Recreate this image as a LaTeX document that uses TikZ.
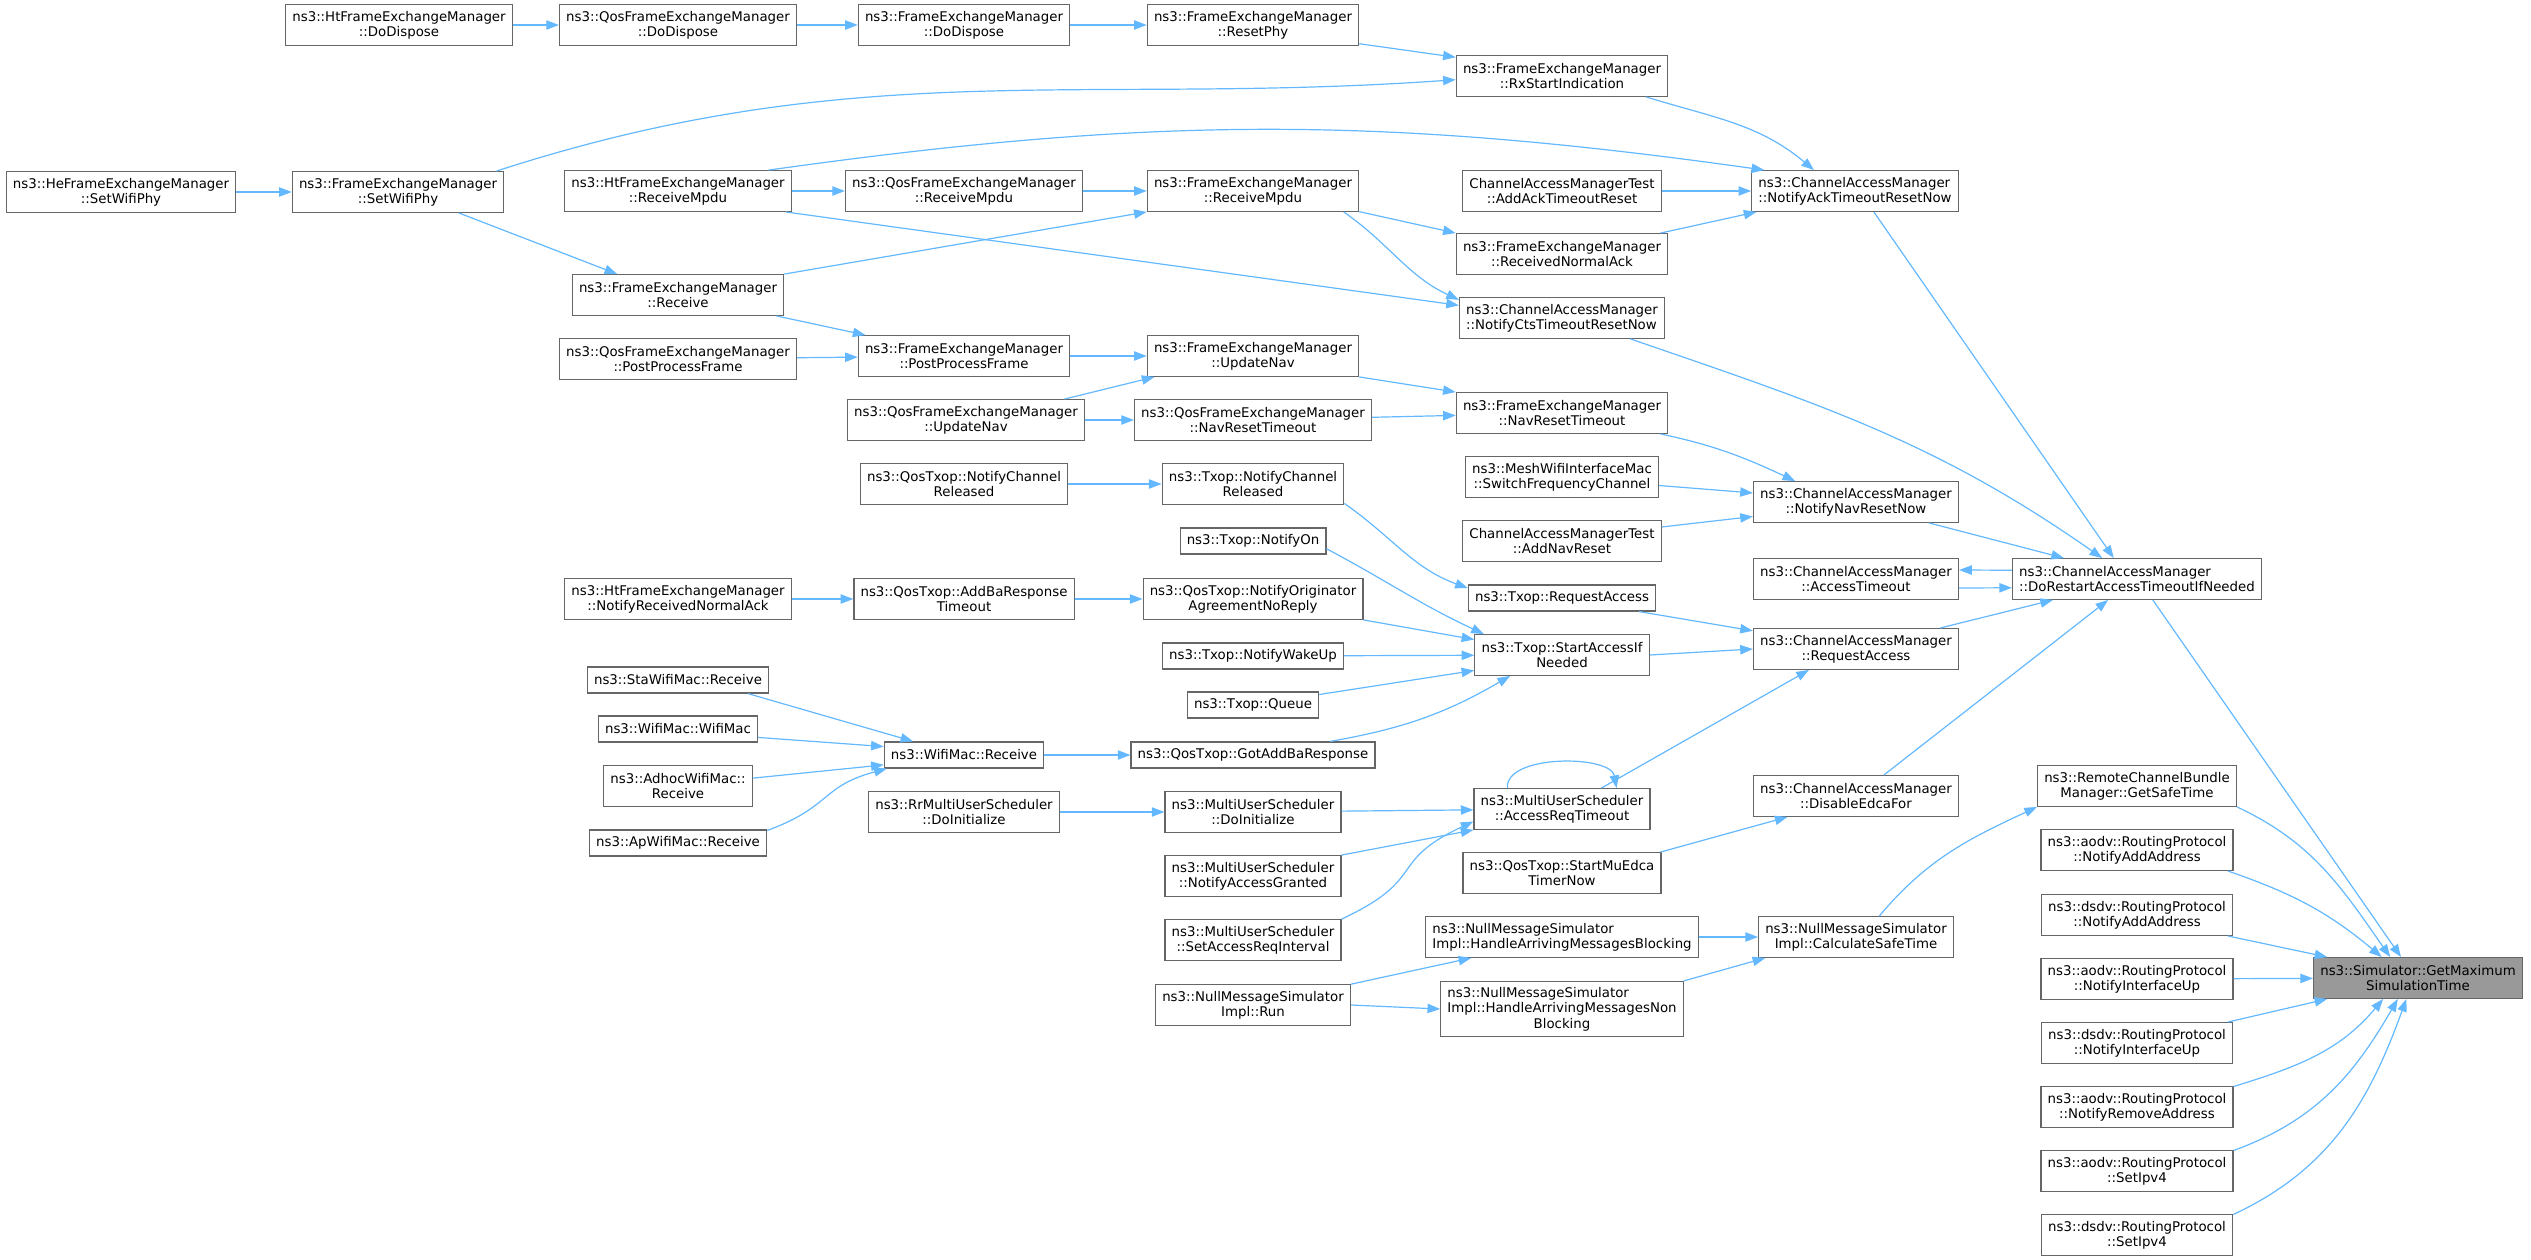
\documentclass[tikz,border=0pt]{standalone}
\usepackage{fontspec}
\setmainfont{DejaVu Sans}
\usepackage{tikz}
\usetikzlibrary{arrows.meta}
\definecolor{edgeblue}{HTML}{63B8FF}
\definecolor{boxgray}{HTML}{666666}
\definecolor{hlgray}{HTML}{999999}

\begin{document}
\begin{tikzpicture}[x=0.75pt,y=0.75pt,
  fn/.style={draw=boxgray,line width=0.9pt,fill=white,align=center,font=\fontsize{10}{11.5}\selectfont,inner xsep=5pt,inner ysep=4.5pt,minimum height=30.5pt},
  fnl/.style={fn,align=left},
  single/.style={minimum height=19.5pt},
  hl/.style={fill=hlgray},
  call/.style={draw=edgeblue,line width=0.9pt,-{Triangle[length=9.5pt,width=7pt]}}]
\useasboundingbox (0,0) rectangle (2531,-1260);

\node[fn] (htDisp) at (399,-25) {ns3::HtFrameExchangeManager\\::DoDispose};
\node[fn] (qosDisp) at (678,-25) {ns3::QosFrameExchangeManager\\::DoDispose};
\node[fn] (femDisp) at (964,-25) {ns3::FrameExchangeManager\\::DoDispose};
\node[fn] (resetPhy) at (1253,-25) {ns3::FrameExchangeManager\\::ResetPhy};
\node[fn] (rxStart) at (1562,-76) {ns3::FrameExchangeManager\\::RxStartIndication};
\node[fn] (heSetPhy) at (121,-192) {ns3::HeFrameExchangeManager\\::SetWifiPhy};
\node[fn] (femSetPhy) at (398,-192) {ns3::FrameExchangeManager\\::SetWifiPhy};
\node[fn] (htRxMpdu) at (678,-191) {ns3::HtFrameExchangeManager\\::ReceiveMpdu};
\node[fn] (qosRxMpdu) at (964,-191) {ns3::QosFrameExchangeManager\\::ReceiveMpdu};
\node[fn] (femRxMpdu) at (1253,-191) {ns3::FrameExchangeManager\\::ReceiveMpdu};
\node[fn] (testAck) at (1562,-191) {ChannelAccessManagerTest\\::AddAckTimeoutReset};
\node[fnl] (ackReset) at (1855,-191) {ns3::ChannelAccessManager\\::NotifyAckTimeoutResetNow};
\node[fn] (rxNormalAck) at (1562,-254) {ns3::FrameExchangeManager\\::ReceivedNormalAck};
\node[fn] (femRx) at (678,-295) {ns3::FrameExchangeManager\\::Receive};
\node[fnl] (ctsReset) at (1562,-318) {ns3::ChannelAccessManager\\::NotifyCtsTimeoutResetNow};
\node[fn] (qosPost) at (678,-359) {ns3::QosFrameExchangeManager\\::PostProcessFrame};
\node[fn] (femPost) at (964,-356) {ns3::FrameExchangeManager\\::PostProcessFrame};
\node[fn] (femNav) at (1253,-356) {ns3::FrameExchangeManager\\::UpdateNav};
\node[fn] (qosNav) at (966,-420) {ns3::QosFrameExchangeManager\\::UpdateNav};
\node[fn] (qosNavReset) at (1253,-420) {ns3::QosFrameExchangeManager\\::NavResetTimeout};
\node[fn] (femNavReset) at (1562,-413) {ns3::FrameExchangeManager\\::NavResetTimeout};
\node[fn] (meshSwitch) at (1562,-477) {ns3::MeshWifiInterfaceMac\\::SwitchFrequencyChannel};
\node[fn] (qosChanRel) at (964,-484) {ns3::QosTxop::NotifyChannel\\Released};
\node[fn] (txopChanRel) at (1253,-484) {ns3::Txop::NotifyChannel\\Released};
\node[fn] (navReset) at (1856,-502) {ns3::ChannelAccessManager\\::NotifyNavResetNow};
\node[fn] (testNav) at (1562,-541) {ChannelAccessManagerTest\\::AddNavReset};
\node[fn,single] (notifyOn) at (1253,-541) {ns3::Txop::NotifyOn};
\node[fn] (accTimeout) at (1856,-579) {ns3::ChannelAccessManager\\::AccessTimeout};
\node[fnl] (doRestart) at (2137,-579) {ns3::ChannelAccessManager\\::DoRestartAccessTimeoutIfNeeded};
\node[fn] (htNormalAck) at (678,-599) {ns3::HtFrameExchangeManager\\::NotifyReceivedNormalAck};
\node[fn] (addBaTimeout) at (964,-599) {ns3::QosTxop::AddBaResponse\\Timeout};
\node[fn] (origNoReply) at (1253,-599) {ns3::QosTxop::NotifyOriginator\\AgreementNoReply};
\node[fn,single] (txopReqAcc) at (1562,-598) {ns3::Txop::RequestAccess};
\node[fn] (camReqAcc) at (1856,-649) {ns3::ChannelAccessManager\\::RequestAccess};
\node[fn,single] (wakeUp) at (1253,-656) {ns3::Txop::NotifyWakeUp};
\node[fn] (startAcc) at (1562,-655) {ns3::Txop::StartAccessIf\\Needed};
\node[fn,single] (staRx) at (678,-680) {ns3::StaWifiMac::Receive};
\node[fn,single] (queue) at (1253,-705) {ns3::Txop::Queue};
\node[fn,single] (wifiMac) at (678,-729) {ns3::WifiMac::WifiMac};
\node[fn,single] (macRx) at (964,-755) {ns3::WifiMac::Receive};
\node[fn,single] (gotAddBa) at (1253,-755) {ns3::QosTxop::GotAddBaResponse};
\node[fn] (adhocRx) at (678,-786) {ns3::AdhocWifiMac::\\Receive};
\node[fn] (safeTime) at (2137,-786) {ns3::RemoteChannelBundle\\Manager::GetSafeTime};
\node[fn] (disableEdca) at (1856,-796) {ns3::ChannelAccessManager\\::DisableEdcaFor};
\node[fn] (rrInit) at (964,-812) {ns3::RrMultiUserScheduler\\::DoInitialize};
\node[fn] (musInit) at (1253,-812) {ns3::MultiUserScheduler\\::DoInitialize};
\node[fn] (accReqTimeout) at (1562,-809) {ns3::MultiUserScheduler\\::AccessReqTimeout};
\node[fn,single] (apRx) at (678,-843) {ns3::ApWifiMac::Receive};
\node[fn] (aodvAdd) at (2137,-850) {ns3::aodv::RoutingProtocol\\::NotifyAddAddress};
\node[fn] (muEdca) at (1562,-873) {ns3::QosTxop::StartMuEdca\\TimerNow};
\node[fn] (accGranted) at (1253,-876) {ns3::MultiUserScheduler\\::NotifyAccessGranted};
\node[fn] (dsdvAdd) at (2137,-915) {ns3::dsdv::RoutingProtocol\\::NotifyAddAddress};
\node[fnl] (hamBlock) at (1562,-937) {ns3::NullMessageSimulator\\Impl::HandleArrivingMessagesBlocking};
\node[fn] (calcSafe) at (1856,-937) {ns3::NullMessageSimulator\\Impl::CalculateSafeTime};
\node[fn] (reqInterval) at (1253,-940) {ns3::MultiUserScheduler\\::SetAccessReqInterval};
\node[fn] (aodvUp) at (2137,-979) {ns3::aodv::RoutingProtocol\\::NotifyInterfaceUp};
\node[fn,hl] (getMax) at (2418,-978) {ns3::Simulator::GetMaximum\\SimulationTime};
\node[fn] (nmsRun) at (1253,-1005) {ns3::NullMessageSimulator\\Impl::Run};
\node[fnl] (hamNonBlock) at (1562,-1009) {ns3::NullMessageSimulator\\Impl::HandleArrivingMessagesNon\\\null\hfill Blocking\hfill\null};
\node[fn] (dsdvUp) at (2137,-1043) {ns3::dsdv::RoutingProtocol\\::NotifyInterfaceUp};
\node[fn] (aodvRemove) at (2137,-1107) {ns3::aodv::RoutingProtocol\\::NotifyRemoveAddress};
\node[fn] (aodvIpv4) at (2137,-1171) {ns3::aodv::RoutingProtocol\\::SetIpv4};
\node[fn] (dsdvIpv4) at (2137,-1235) {ns3::dsdv::RoutingProtocol\\::SetIpv4};

\draw[call] (htDisp) -- (qosDisp);
\draw[call] (qosDisp) -- (femDisp);
\draw[call] (femDisp) -- (resetPhy);
\draw[call] (resetPhy.-10) -- (rxStart.170);
\draw[call] (femSetPhy.12) to[out=18,in=184] (rxStart.182);
\draw[call] (rxStart.-14) to[out=-17,in=140] (ackReset.153);
\draw[call] (htRxMpdu.13) to[out=8,in=172] (ackReset.167);
\draw[call] (testAck) -- (ackReset);
\draw[call] (rxNormalAck.12) -- (ackReset.-168);
\draw[call] (ackReset.-48) -- (doRestart.138);
\draw[call] (heSetPhy) -- (femSetPhy);
\draw[call] (femSetPhy.-19) -- (femRx.161);
\draw[call] (htRxMpdu) -- (qosRxMpdu);
\draw[call] (qosRxMpdu) -- (femRxMpdu);
\draw[call] (femRx.north east) -- (femRxMpdu.south west);
\draw[call] (femRxMpdu.-11) -- (rxNormalAck.north west);
\draw[call] (femRxMpdu.-13) to[out=-35,in=155] (ctsReset.170);
\draw[call] (htRxMpdu.-11) -- (ctsReset.173);
\draw[call] (ctsReset.-17) to[out=-19,in=145] (doRestart.149);
\draw[call] (femRx.-12) -- (femPost.168);
\draw[call] (qosPost) -- (femPost);
\draw[call] (femPost) -- (femNav);
\draw[call] (qosNav.12) -- (femNav.-168);
\draw[call] (qosNav) -- (qosNavReset);
\draw[call] (femNav.south east) -- (femNavReset.north west);
\draw[call] (qosNavReset) -- (femNavReset);
\draw[call] (femNavReset.-12) to[out=-12,in=155] (navReset.161);
\draw[call] (meshSwitch.-5) -- (navReset.175);
\draw[call] (testNav.8) -- (navReset.188);
\draw[call] (navReset.-16) -- (doRestart.164);
\draw[call] (doRestart.176) -- (accTimeout.5);
\draw[call] (accTimeout.-5) -- (doRestart.184);
\draw[call] (camReqAcc.14) -- (doRestart.-166);
\draw[call] (disableEdca.37) -- (doRestart.-144);
\draw[call] (doRestart.-53) -- (getMax.129);
\draw[call] (qosChanRel) -- (txopChanRel);
\draw[call] (txopChanRel.-12) to[out=-35,in=160] (txopReqAcc.174);
\draw[call] (notifyOn.-6) to[out=-28,in=155] (startAcc.165);
\draw[call] (htNormalAck) -- (addBaTimeout);
\draw[call] (addBaTimeout) -- (origNoReply);
\draw[call] (origNoReply.south east) -- (startAcc.170);
\draw[call] (wakeUp) -- (startAcc);
\draw[call] (queue.9) -- (startAcc.190);
\draw[call] (gotAddBa.10) to[out=10,in=210] (startAcc.-158);
\draw[call] (txopReqAcc.-10) -- (camReqAcc.170);
\draw[call] (startAcc.east) -- (camReqAcc.west);
\draw[call] (accReqTimeout.28) -- (camReqAcc.-156);
\draw[call] (accReqTimeout.159) to[out=95,in=100,looseness=0.8] (accReqTimeout.21);
\draw[call] (staRx.-11) -- (macRx.165);
\draw[call] (wifiMac.-6) -- (macRx.174);
\draw[call] (adhocRx.6) -- (macRx.187);
\draw[call] (apRx.8) to[out=20,in=195,looseness=1.3] (macRx.190);
\draw[call] (macRx) -- (gotAddBa);
\draw[call] (rrInit) -- (musInit);
\draw[call] (musInit) -- (accReqTimeout);
\draw[call] (accGranted.north east) -- (accReqTimeout.south west);
\draw[call] (reqInterval.north east) to[out=25,in=205,looseness=1.5] (accReqTimeout.188);
\draw[call] (muEdca.12) -- (disableEdca.-163);
\draw[call] (nmsRun.12) -- (hamBlock.-167);
\draw[call] (nmsRun.east) -- (hamNonBlock.west);
\draw[call] (hamBlock) -- (calcSafe);
\draw[call] (hamNonBlock.13) -- (calcSafe.-167);
\draw[call] (calcSafe.42) to[out=50,in=205] (safeTime.south west);
\draw[call] (safeTime.south east) to[out=-25,in=125] (getMax.143);
\draw[call] (aodvAdd.-13) to[out=-19,in=140] (getMax.150);
\draw[call] (dsdvAdd.-13) -- (getMax.167);
\draw[call] (aodvUp) -- (getMax);
\draw[call] (dsdvUp.13) -- (getMax.-167);
\draw[call] (aodvRemove.12) to[out=17,in=230] (getMax.-149);
\draw[call] (aodvIpv4.12) to[out=20,in=240] (getMax.-134);
\draw[call] (dsdvIpv4.12) to[out=25,in=250] (getMax.-119);
\end{tikzpicture}
\end{document}
